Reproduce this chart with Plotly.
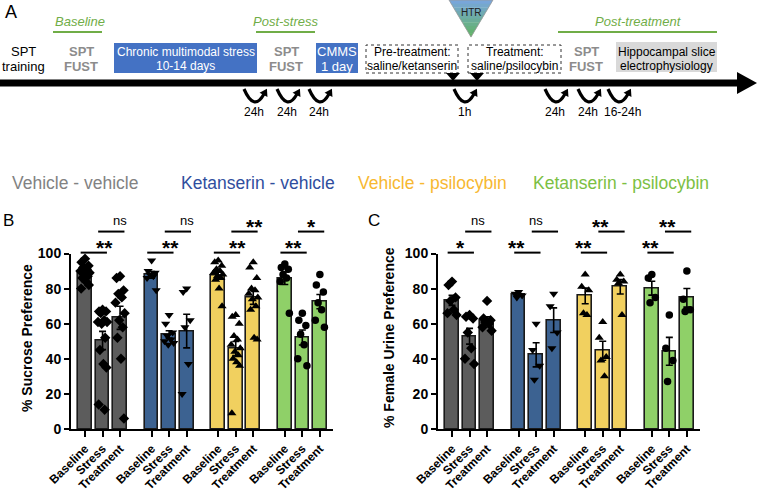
import numpy as np
import plotly.graph_objects as go

W, H = 757, 492
FONT = "Liberation Sans, Arial, sans-serif"

# ---------------- data ----------------
groups = ["Vehicle - vehicle", "Ketanserin - vehicle", "Vehicle - psilocybin", "Ketanserin - psilocybin"]
conditions = ["Baseline", "Stress", "Treatment"]

# Panel B: % sucrose preference (individual animals)
sucrose_vehicle_vehicle = [
    [97, 95, 93, 92, 91, 90, 89, 88, 87, 86, 84, 82, 80],
    [68, 67, 67, 66, 62, 61, 61, 60, 52, 45, 37, 35, 14, 11],
    [87, 86, 79, 77, 75, 72, 66, 62, 58, 52, 40, 6],
]
sucrose_ketanserin_vehicle = [
    [96, 90, 89, 88, 87, 86, 79],
    [65, 60, 55, 53, 51, 50, 49, 48],
    [80, 78, 62, 58, 37, 20],
]
sucrose_vehicle_psilocybin = [
    [96, 95, 93, 91, 90, 89, 88, 87, 86, 85, 80, 70],
    [65, 64, 60, 53, 51, 48, 46, 44, 42, 40, 38, 36, 9],
    [95, 92, 86, 80, 79, 77, 75, 74, 70, 68, 52, 51],
]
sucrose_ketanserin_psilocybin = [
    [94, 92, 91, 88, 86, 84, 66],
    [66, 62, 59, 54, 48, 40, 36],
    [88, 82, 78, 72, 68, 62, 58],
]

# Panel C: % female urine preference
urine_vehicle_vehicle = [
    [84, 82, 75, 73, 68, 66, 65],
    [65, 64, 63, 55, 46, 40, 37],
    [73, 63, 62, 61, 60, 58, 56],
]
urine_ketanserin_vehicle = [
    [78, 77, 76, 75],
    [60, 45, 36, 28],
    [77, 70, 55, 46],
]
urine_vehicle_psilocybin = [
    [88, 81, 79, 66, 65],
    [61, 52, 41, 39, 30],
    [88, 85, 84, 83, 65],
]
urine_ketanserin_psilocybin = [
    [88, 86, 75, 72],
    [65, 46, 39, 27],
    [90, 74, 68, 67],
]

sig_B_stress = ["**", "**", "**", "**"]
sig_B_treat = ["ns", "ns", "**", "*"]
sig_C_stress = ["*", "**", "**", "**"]
sig_C_treat = ["ns", "ns", "**", "**"]

y_ticks = [0, 20, 40, 60, 80, 100]

# ---------------- styles ----------------
bar_colors = ["#5c5c5c", "#3c6291", "#f1d05f", "#8fd068"]
legend_colors = ["#828282", "#2f4e9e", "#f7b831", "#7cc043"]
symbols = ["diamond", "triangle-down", "triangle-up", "circle"]
sym_size = [8, 8, 8, 7.5]
GROUP_STEP = 3.8
XR = [-0.8, 14.15]
jitter = [0.0, -0.2, 0.2, -0.1, 0.1, -0.26, 0.26, -0.05, 0.15, -0.15, 0.05, 0.22, -0.22, 0.12]

dom_y = [1 - 429 / H, 1 - 253.5 / H]
dom_B = [71 / W, 333 / W]
dom_C = [438 / W, 700 / W]

fig = go.Figure()
shapes = []
annots = []


def P(x, y):
    return x / W, 1 - y / H


def txt(x, y, s, size, color="black", anchor="center", angle=0):
    px, py = P(x, y)
    annots.append(dict(x=px, y=py, xref="paper", yref="paper", text=s, showarrow=False,
                       font=dict(family=FONT, size=size, color=color), xanchor=anchor,
                       yanchor="middle", textangle=angle))


def path_px(points, close=True):
    parts = []
    for i, (x, y) in enumerate(points):
        px, py = P(x, y)
        parts.append(("M" if i == 0 else "L") + f"{px:.5f},{py:.5f}")
    return " ".join(parts) + (" Z" if close else "")


def panel(data_sets, xa, ya, dom_x):
    for g, ds in enumerate(data_sets):
        pos = [g * GROUP_STEP + c for c in range(3)]
        means = [float(np.mean(v)) for v in ds]
        sems = [float(np.std(v, ddof=1) / np.sqrt(len(v))) for v in ds]
        fig.add_trace(go.Bar(x=pos, y=means, width=0.78, xaxis=xa, yaxis=ya,
                             marker=dict(color=bar_colors[g], line=dict(color="#1a1a1a", width=1.6)),
                             error_y=dict(type="data", array=sems, color="black", thickness=1.6, width=3.5),
                             hoverinfo="skip"))
    for g, ds in enumerate(data_sets):
        pos = [g * GROUP_STEP + c for c in range(3)]
        xs, ys = [], []
        for c, v in enumerate(ds):
            for i, val in enumerate(v):
                xs.append(pos[c] + jitter[i % len(jitter)])
                ys.append(val)
        fig.add_trace(go.Scatter(x=xs, y=ys, mode="markers", xaxis=xa, yaxis=ya,
                                 marker=dict(symbol=symbols[g], size=sym_size[g], color="black"),
                                 cliponaxis=False, hoverinfo="skip"))


def to_paper(xv, yv, dom_x):
    px = dom_x[0] + (xv - XR[0]) / (XR[1] - XR[0]) * (dom_x[1] - dom_x[0])
    py = dom_y[0] + yv / 100 * (dom_y[1] - dom_y[0])
    return px, py


def brackets(dom_x, low_labels, high_labels):
    for g in range(4):
        for (c1, c2, lvl, lab) in [(0, 1, 100.5, low_labels[g]), (1, 2, 112.5, high_labels[g])]:
            x0, y0 = to_paper(g * GROUP_STEP + c1 - 0.25, lvl, dom_x)
            x1, _ = to_paper(g * GROUP_STEP + c2 + 0.25, lvl, dom_x)
            shapes.append(dict(type="line", xref="paper", yref="paper", x0=x0, x1=x1, y0=y0, y1=y0,
                               line=dict(color="black", width=2)))
            if lab == "ns":
                annots.append(dict(x=(x0 + x1) / 2, y=y0 + 2 / H, xref="paper", yref="paper", text=lab,
                                   showarrow=False, yanchor="bottom",
                                   font=dict(family=FONT, size=13, color="black")))
            else:
                annots.append(dict(x=(x0 + x1) / 2, y=y0 - 8 / H, xref="paper", yref="paper",
                                   text="<b>" + lab + "</b>", showarrow=False, yanchor="bottom",
                                   font=dict(family=FONT, size=21, color="black")))


panel([sucrose_vehicle_vehicle, sucrose_ketanserin_vehicle, sucrose_vehicle_psilocybin,
       sucrose_ketanserin_psilocybin], "x", "y", dom_B)
panel([urine_vehicle_vehicle, urine_ketanserin_vehicle, urine_vehicle_psilocybin,
       urine_ketanserin_psilocybin], "x2", "y2", dom_C)
brackets(dom_B, sig_B_stress, sig_B_treat)
brackets(dom_C, sig_C_stress, sig_C_treat)

tick_pos = [g * GROUP_STEP + c for g in range(4) for c in range(3)]
tick_txt = conditions * 4

axis_x = dict(range=XR, showline=True, linewidth=2, linecolor="black", ticks="outside", ticklen=6,
              tickwidth=2, tickcolor="black", tickvals=tick_pos, ticktext=tick_txt, tickangle=-45,
              tickfont=dict(family=FONT, size=12, color="black", weight="bold"), showgrid=False,
              zeroline=False, fixedrange=True, automargin=False)
axis_y = dict(range=[0, 100], domain=dom_y, showline=True, linewidth=2, linecolor="black", ticks="outside",
              ticklen=5, tickwidth=2, tickcolor="black", tickvals=y_ticks,
              tickfont=dict(family=FONT, size=14, color="black", weight="bold"), showgrid=False,
              zeroline=False, fixedrange=True, automargin=False)

# panel labels, axis titles, legend text
txt(8, 220, "B", 17)
txt(374, 220, "C", 17)
txt(27, 338, "<b>% Sucrose Preference</b>", 14, angle=-90)
txt(389, 338, "<b>% Female Urine Preference</b>", 14, angle=-90)
legend_x = [10, 179, 356, 531]
for g in range(4):
    txt(legend_x[g], 183, groups[g], 17.5, color=legend_colors[g], anchor="left")

# ---------------- panel A: timeline ----------------
GREEN = "#70ad47"
GREY = "#8c8c8c"
txt(11, 12, "A", 18)
# timeline arrow
shapes.append(dict(type="rect", xref="paper", yref="paper", x0=P(0, 0)[0], x1=P(739, 0)[0],
                   y0=P(0, 86.5)[1], y1=P(0, 79.5)[1], fillcolor="black", line=dict(width=0)))
shapes.append(dict(type="path", xref="paper", yref="paper", path=path_px([(737, 72), (757, 83), (737, 94)]),
                   fillcolor="black", line=dict(width=0)))
# phase headers
for (cx, x0, x1, lab) in [(79.5, 53, 102, "Baseline"), (286, 256, 315, "Post-stress"),
                          (638, 558, 717, "Post-treatment")]:
    txt(cx, 22, "<i>" + lab + "</i>", 13, color=GREEN)
    shapes.append(dict(type="line", xref="paper", yref="paper", x0=P(x0, 0)[0], x1=P(x1, 0)[0],
                       y0=P(0, 32)[1], y1=P(0, 32)[1], line=dict(color=GREEN, width=2)))
# boxes
for (x0, x1, y0, y1, fill, dash) in [(114, 257, 43, 73, "#4472c4", None), (316, 358, 43, 73, "#4472c4", None),
                                     (616, 717, 42, 72, "#d9d9d9", None),
                                     (366, 458, 45, 73, "rgba(0,0,0,0)", "dot"),
                                     (468, 561, 45, 73, "rgba(0,0,0,0)", "dot")]:
    ln = dict(width=0) if dash is None else dict(color="#333333", width=1, dash="dot")
    shapes.append(dict(type="rect", xref="paper", yref="paper", x0=P(x0, 0)[0], x1=P(x1, 0)[0],
                       y0=P(0, y1)[1], y1=P(0, y0)[1], fillcolor=fill, line=ln))
# pointers under dotted boxes
for cx in [453, 477]:
    shapes.append(dict(type="path", xref="paper", yref="paper",
                       path=path_px([(cx - 7, 73), (cx + 7, 73), (cx, 81)]), fillcolor="black",
                       line=dict(width=0)))
# two-line texts
two_line = [
    (23, "SPT", "training", 13, "black", False),
    (81, "SPT", "FUST", 13, GREY, True),
    (185.5, "Chronic multimodal stress", "10-14 days", 12, "white", False),
    (286, "SPT", "FUST", 13, GREY, True),
    (337, "CMMS", "1 day", 13, "white", False),
    (412, "Pre-treatment:", "saline/ketanserin", 12, "black", False),
    (514.5, "Treatment:", "saline/psilocybin", 12, "black", False),
    (586, "SPT", "FUST", 13, GREY, True),
    (666.5, "Hippocampal slice", "electrophysiology", 12, "black", False),
]
for (cx, l1, l2, sz, col, bold) in two_line:
    a, b = ("<b>" + l1 + "</b>", "<b>" + l2 + "</b>") if bold else (l1, l2)
    txt(cx, 51.5, a, sz, color=col)
    txt(cx, 66, b, sz, color=col)

# HTR triangle with vertical gradient
top_c = np.array([122, 166, 224])
bot_c = np.array([96, 180, 96])
n_band = 10
apex_y, half_w, tcx = 37.0, 22.0, 471.0
for k in range(n_band):
    ya, yb = apex_y * k / n_band, apex_y * (k + 1) / n_band
    wa, wb = half_w * (1 - ya / apex_y), half_w * (1 - yb / apex_y)
    col = top_c + (bot_c - top_c) * (k + 0.5) / n_band
    shapes.append(dict(type="path", xref="paper", yref="paper",
                       path=path_px([(tcx - wa, ya), (tcx + wa, ya), (tcx + wb, yb + 0.4), (tcx - wb, yb + 0.4)]),
                       fillcolor=f"rgb({int(col[0])},{int(col[1])},{int(col[2])})", line=dict(width=0)))
shapes.append(dict(type="path", xref="paper", yref="paper",
                   path=path_px([(tcx - half_w, 0), (tcx + half_w, 0), (tcx, apex_y)]),
                   fillcolor="rgba(0,0,0,0)", line=dict(color="#9a9a9a", width=0.8)))
txt(471, 13, "HTR", 10, color="#222222")

# curved interval arrows
intervals = [(256, "24h"), (289, "24h"), (321, "24h"), (466, "1h"), (557, "24h"), (590, "24h"), (620, "16-24h")]
for (cx, lab) in intervals:
    p0 = np.array([cx - 12.0, 89.0])
    c = np.array([cx - 2.0, 112.0])
    p1 = np.array([cx + 8.0, 94.0])
    pa, pc, pb = P(*p0), P(*c), P(*p1)
    shapes.append(dict(type="path", xref="paper", yref="paper",
                       path=f"M{pa[0]:.5f},{pa[1]:.5f} Q{pc[0]:.5f},{pc[1]:.5f} {pb[0]:.5f},{pb[1]:.5f}",
                       line=dict(color="black", width=3.2)))
    d = (p1 - c) / np.linalg.norm(p1 - c)
    nrm = np.array([-d[1], d[0]])
    tip = p1 + d * 6
    base = p1 - d * 1
    shapes.append(dict(type="path", xref="paper", yref="paper",
                       path=path_px([tuple(tip), tuple(base + nrm * 4.5), tuple(base - nrm * 4.5)]),
                       fillcolor="black", line=dict(width=0)))
    txt(cx - 2 if lab != "16-24h" else cx + 2, 112, lab, 12)

fig.update_layout(
    width=W, height=H, autosize=False, margin=dict(l=0, r=0, t=0, b=0, autoexpand=False),
    paper_bgcolor="white", plot_bgcolor="white", showlegend=False,
    xaxis=dict(domain=dom_B, anchor="y", **axis_x),
    yaxis=dict(anchor="x", **axis_y),
    xaxis2=dict(domain=dom_C, anchor="y2", **axis_x),
    yaxis2=dict(anchor="x2", **axis_y),
    shapes=shapes, annotations=annots, bargap=0,
)

fig.write_html("out.html", config={"displayModeBar": False},
               post_script="document.body.style.margin='0px';document.body.style.overflow='hidden';")
